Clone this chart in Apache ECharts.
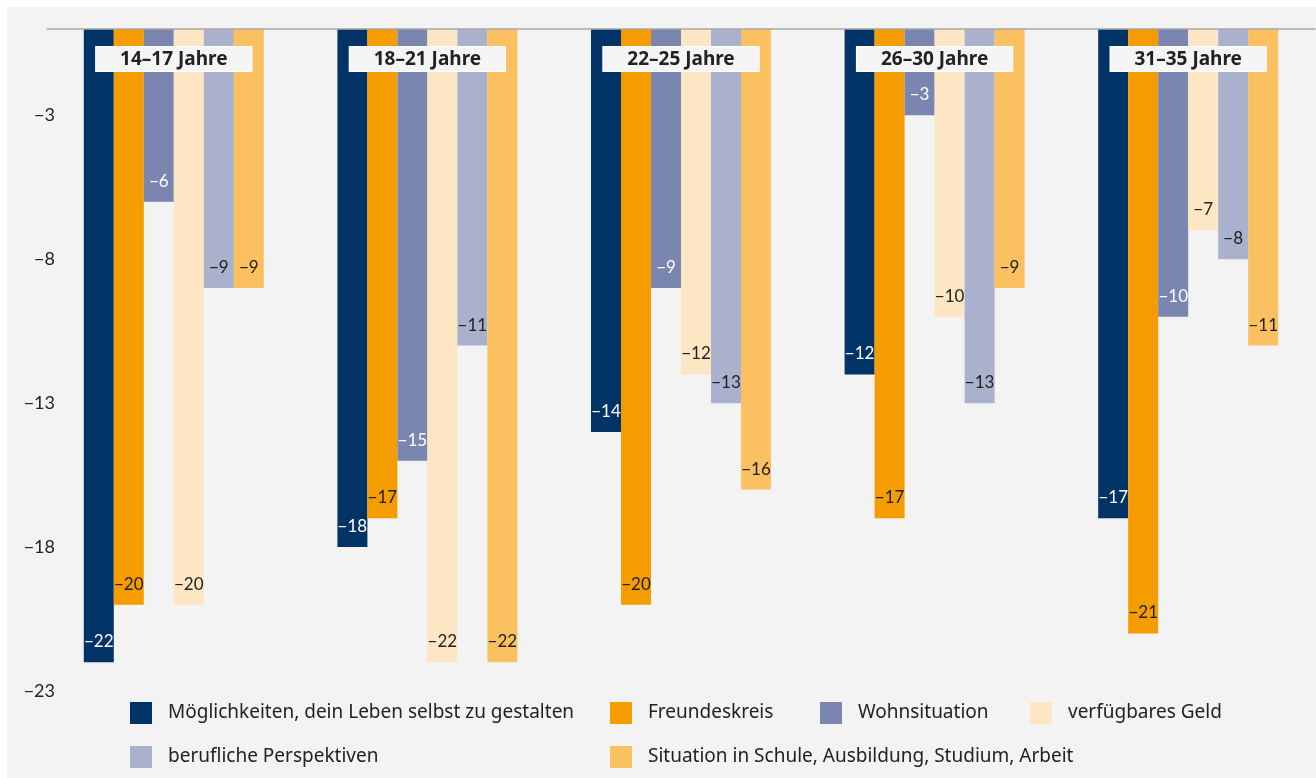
<!DOCTYPE html>
<html>
<head>
<meta charset="utf-8">
<script src="https://cdn.jsdelivr.net/npm/echarts@6/dist/echarts.min.js"></script>
<style>
html,body{margin:0;padding:0;background:#ffffff;width:1316px;height:778px;overflow:hidden;}
#chart{position:absolute;left:7px;top:7px;width:1309px;height:771px;background:#f3f3f3;}
</style>
</head>
<body>
<div id="chart"></div>
<script>
const categories = ['14–17 Jahre', '18–21 Jahre', '22–25 Jahre', '26–30 Jahre', '31–35 Jahre'];
const seriesNames = [
  'Möglichkeiten, dein Leben selbst zu gestalten',
  'Freundeskreis',
  'Wohnsituation',
  'verfügbares Geld',
  'berufliche Perspektiven',
  'Situation in Schule, Ausbildung, Studium, Arbeit'
];
const moeglichkeiten = [-22, -18, -14, -12, -17];
const freundeskreis = [-20, -17, -20, -17, -21];
const wohnsituation = [-6, -15, -9, -3, -10];
const geld = [-20, -22, -12, -10, -7];
const perspektiven = [-9, -11, -13, -13, -8];
const situation = [-9, -22, -16, -9, -11];
const yTicks = { min: -23, max: 0, interval: 5 };

const seriesData = [moeglichkeiten, freundeskreis, wohnsituation, geld, perspektiven, situation];
const colors = ['#023366', '#f59c00', '#7a86b0', '#fde6c4', '#aab1cd', '#fbc060'];
const labelColors = ['#ffffff', '#222222', '#ffffff', '#222222', '#222222', '#222222'];
const FONT = 'Lato';
const FONT2 = 'Noto Sans';
const minus = v => (v < 0 ? '\u2212' + Math.abs(v) : String(v));

const chart = echarts.init(document.getElementById('chart'));
const series = seriesNames.map((name, i) => ({
  name: name,
  type: 'bar',
  data: seriesData[i],
  barWidth: 30,
  barGap: '0%',
  itemStyle: { color: colors[i] },
  label: {
    show: true,
    position: 'insideBottom',
    distance: 12,
    color: labelColors[i],
    fontFamily: FONT,
    fontSize: 17,
    formatter: p => minus(p.value)
  }
}));

function legendCol(left, names) {
  return {
    orient: 'vertical',
    left: left,
    top: 695,
    padding: 0,
    itemWidth: 22,
    itemHeight: 22,
    itemGap: 22,
    icon: 'rect',
    data: names,
    textStyle: { fontFamily: FONT2, fontSize: 19, color: '#222', padding: [0, 0, 0, 11] }
  };
}

chart.setOption({
  animation: false,
  grid: { left: 40, right: 1, top: 22, bottom: 87, containLabel: false },
  legend: [
    legendCol(123, [seriesNames[0], seriesNames[4]]),
    legendCol(603, [seriesNames[1], seriesNames[5]]),
    legendCol(813, [seriesNames[2]]),
    legendCol(1023, [seriesNames[3]])
  ],
  xAxis: {
    type: 'category',
    data: categories,
    position: 'top',
    z: 10,
    axisLine: { show: true, lineStyle: { color: '#a8a8a8', width: 1.5 } },
    axisTick: { show: false },
    axisLabel: {
      inside: true,
      margin: 18,
      fontFamily: FONT2,
      fontWeight: 'bold',
      fontSize: 19,
      color: '#222',
      backgroundColor: '#f5f5f5',
      borderColor: '#ffffff',
      borderWidth: 1,
      padding: [3, 24, 2, 24]
    }
  },
  yAxis: {
    type: 'value',
    min: yTicks.min,
    max: yTicks.max,
    interval: yTicks.interval,
    axisLine: { show: false },
    axisTick: { show: false },
    splitLine: { show: false },
    axisLabel: {
      showMaxLabel: false,
      margin: -8,
      fontFamily: FONT,
      fontSize: 18,
      color: '#222',
      formatter: v => minus(v)
    }
  },
  series: series
});
</script>
</body>
</html>
